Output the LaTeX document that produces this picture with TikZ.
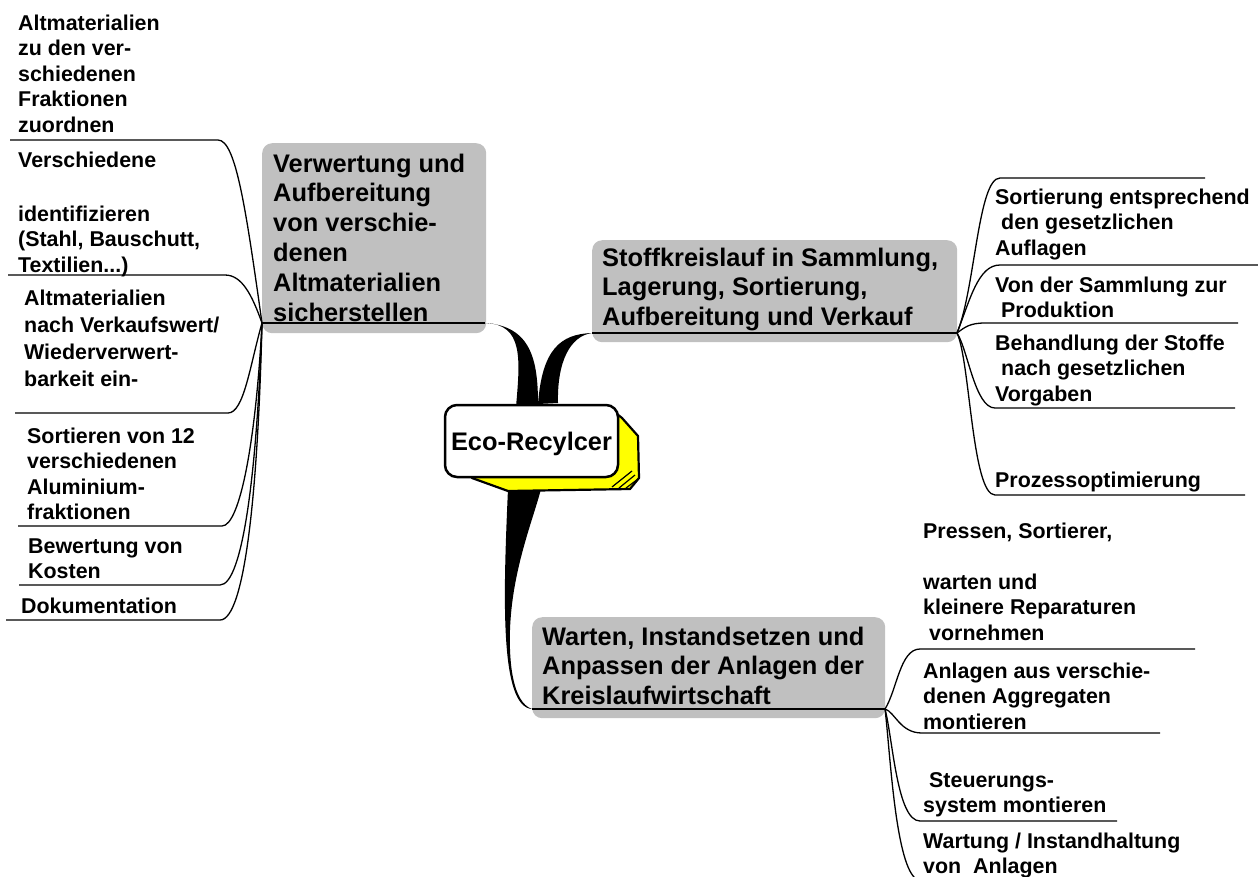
\documentclass[tikz,border=0pt]{standalone}
\usepackage{fontspec}
\setmainfont{Liberation Sans}
\definecolor{boxgray}{RGB}{192,192,192}
\definecolor{ecoyellow}{RGB}{255,255,0}
\newcommand\smallfnt{\fontsize{21.4pt}{25.5pt}\selectfont\bfseries}
\newcommand\bigfnt{\fontsize{25.4pt}{29.8pt}\selectfont\bfseries}
\newcommand\lsp{\hspace*{0.28em}}
\tikzset{
  leaf/.style={line width=1.3pt},
  underl/.style={line width=2pt},
  mainbox/.style={fill=boxgray, rounded corners=10pt, draw=none, inner sep=0pt, anchor=north west},
  txt/.style={anchor=base west, inner sep=0pt, font=\smallfnt},
  bigtxt/.style={anchor=base west, inner sep=0pt, font=\bigfnt},
  thick/.style={fill=black},
}
\begin{document}
\begin{tikzpicture}[x=1pt,y=-1pt]
\useasboundingbox (0,0) rectangle (1258,876);

% main boxes
\node[mainbox, minimum width=224pt, minimum height=190pt] (vbox) at (262,143) {};
\node[mainbox, minimum width=365pt, minimum height=102pt] (sbox) at (592,240) {};
\node[mainbox, minimum width=353pt, minimum height=101pt] (wbox) at (532,617) {};

% junctions and ends
\coordinate (J1) at (262,323);
\coordinate (J2) at (957,333);
\coordinate (J3) at (885,709);
\coordinate (vE) at (485,323);
\coordinate (sE) at (592,333);
\coordinate (wE) at (532,709);
\coordinate (e1) at (516,407);
\coordinate (e2) at (538,404);
\coordinate (e3) at (558,403);
\coordinate (e4) at (508,489);
\coordinate (e5) at (541,489);

% box underlines
\draw[underl] (J1) -- (vE);
\draw[underl] (sE) -- (J2);
\draw[underl] (wE) -- (J3);

% thick connectors
\fill[thick] (e1) .. controls (520,360) and (524,324) .. (vE) .. controls (531,326) and (538,360) .. (e2) -- cycle;
\fill[thick] (e2) .. controls (542,350) and (560,334) .. (sE) .. controls (570,336) and (557,362) .. (e3) -- cycle;
\fill[thick] (e4) .. controls (503,600) and (500,707) .. (wE) .. controls (512,702) and (509,660) .. (510,630) .. controls (512,570) and (533,520) .. (e5) -- cycle;

% centre node
\draw[line width=2.2pt, fill=ecoyellow, line join=round] (606,405) -- (622,418) -- (638,436) -- (639,478) -- (630,489) -- (508,491) -- (472,478) -- cycle;
\draw[line width=1.2pt] (612,487) -- (632,471) (619,488) -- (635,475) (626,488) -- (638,479);
\node[draw, line width=2.5pt, fill=white, rounded corners=12pt, minimum width=173pt, minimum height=72pt, inner sep=0pt, font=\bigfnt, text height=18.2pt, text depth=0pt] (eco) at (531.5,441) {Eco-Recylcer};

% left leaf lines
\coordinate (a1s) at (10,140);  \coordinate (a1e) at (218,140);
\coordinate (a2s) at (8,275);   \coordinate (a2e) at (225,275);
\coordinate (a3s) at (15,413);  \coordinate (a3e) at (228,413);
\coordinate (a4s) at (18,526);  \coordinate (a4e) at (222,526);
\coordinate (a5s) at (19,585);  \coordinate (a5e) at (220,585);
\coordinate (a6s) at (6,620);   \coordinate (a6e) at (220,620);
\draw[leaf] (J1) .. controls (246,210) and (236,140) .. (a1e) -- (a1s);
\draw[leaf] (J1) .. controls (252,295) and (242,275) .. (a2e) -- (a2s);
\draw[leaf] (J1) .. controls (250,365) and (244,413) .. (a3e) -- (a3s);
\draw[leaf] (J1) .. controls (256,440) and (240,526) .. (a4e) -- (a4s);
\draw[leaf] (J1) .. controls (257,470) and (243,585) .. (a5e) -- (a5s);
\draw[leaf] (J1) .. controls (258,490) and (245,620) .. (a6e) -- (a6s);

% right leaf lines
\coordinate (b1s) at (1000,178); \coordinate (b1e) at (1205,178);
\coordinate (b2s) at (1000,265); \coordinate (b2e) at (1258,265);
\coordinate (b3s) at (985,323);  \coordinate (b3e) at (1238,323);
\coordinate (b4s) at (995,408);  \coordinate (b4e) at (1235,408);
\coordinate (b5s) at (995,495);  \coordinate (b5e) at (1245,495);
\draw[leaf] (J2) .. controls (975,290) and (978,178) .. (b1s) -- (b1e);
\draw[leaf] (J2) .. controls (970,300) and (978,265) .. (b2s) -- (b2e);
\draw[leaf] (J2) .. controls (965,327) and (970,323) .. (b3s) -- (b3e);
\draw[leaf] (J2) .. controls (968,350) and (975,408) .. (b4s) -- (b4e);
\draw[leaf] (J2) .. controls (970,360) and (972,495) .. (b5s) -- (b5e);

% bottom leaf lines
\coordinate (c1s) at (920,649); \coordinate (c1e) at (1195,649);
\coordinate (c2s) at (922,733); \coordinate (c2e) at (1160,733);
\coordinate (c3s) at (920,821); \coordinate (c3e) at (1117,821);
\coordinate (c4s) at (915,878);
\draw[leaf] (J3) .. controls (897,690) and (900,649) .. (c1s) -- (c1e);
\draw[leaf] (J3) .. controls (895,712) and (900,733) .. (c2s) -- (c2e);
\draw[leaf] (J3) .. controls (893,740) and (897,821) .. (c3s) -- (c3e);
\draw[leaf] (J3) .. controls (890,750) and (895,860) .. (c4s);

% main texts
\node[bigtxt] (vtext) at (273,172) {\begin{tabular}[t]{@{}l@{}}Verwertung und\\Aufbereitung\\von verschie-\\denen\\Altmaterialien\\sicherstellen\end{tabular}};
\node[bigtxt] (stext) at (602,266) {\begin{tabular}[t]{@{}l@{}}Stoffkreislauf in Sammlung,\\Lagerung, Sortierung,\\Aufbereitung und Verkauf\end{tabular}};
\node[bigtxt] (wtext) at (542,645) {\begin{tabular}[t]{@{}l@{}}Warten, Instandsetzen und\\Anpassen der Anlagen der\\Kreislaufwirtschaft\end{tabular}};

% left leaf texts
\node[txt] (t1) at (18,30) {\begin{tabular}[t]{@{}l@{}}Altmaterialien\\zu den ver-\\schiedenen\\Fraktionen\\zuordnen\end{tabular}};
\node[txt] (t2) at (18,167) {\begin{tabular}[t]{@{}l@{}}Verschiedene\\ \\[3pt]identifizieren\\(Stahl, Bauschutt,\\Textilien...)\end{tabular}};
\node[txt] (t3) at (24,305) {\begin{tabular}[t]{@{}l@{}}Altmaterialien\\[1.5pt]nach Verkaufswert/\\[1.5pt]Wiederverwert-\\[1.5pt]barkeit ein-\end{tabular}};
\node[txt] (t4) at (27,443) {\begin{tabular}[t]{@{}l@{}}Sortieren von 12\\verschiedenen\\Aluminium-\\fraktionen\end{tabular}};
\node[txt] (t5) at (28,553) {\begin{tabular}[t]{@{}l@{}}Bewertung von\\Kosten\end{tabular}};
\node[txt] (t6) at (21,613) {Dokumentation};

% right leaf texts
\node[txt] (r1) at (995,204) {\begin{tabular}[t]{@{}l@{}}Sortierung entsprechend\\\lsp den gesetzlichen\\Auflagen\end{tabular}};
\node[txt] (r2) at (995,292) {\begin{tabular}[t]{@{}l@{}}Von der Sammlung zur\\\lsp Produktion\end{tabular}};
\node[txt] (r3) at (995,350) {\begin{tabular}[t]{@{}l@{}}Behandlung der Stoffe\\\lsp nach gesetzlichen\\Vorgaben\end{tabular}};
\node[txt] (r4) at (995,487) {Prozessoptimierung};

% bottom leaf texts
\node[txt] (s1) at (923,538) {\begin{tabular}[t]{@{}l@{}}Pressen, Sortierer,\\ \\warten und\\kleinere Reparaturen\\\lsp vornehmen\end{tabular}};
\node[txt] (s2) at (923,678) {\begin{tabular}[t]{@{}l@{}}Anlagen aus verschie-\\denen Aggregaten\\montieren\end{tabular}};
\node[txt] (s3) at (923,787) {\begin{tabular}[t]{@{}l@{}}\lsp Steuerungs-\\system montieren\end{tabular}};
\node[txt] (s4) at (923,848) {\begin{tabular}[t]{@{}l@{}}Wartung / Instandhaltung\\von\hspace{0.56em}Anlagen\end{tabular}};
\end{tikzpicture}
\end{document}
